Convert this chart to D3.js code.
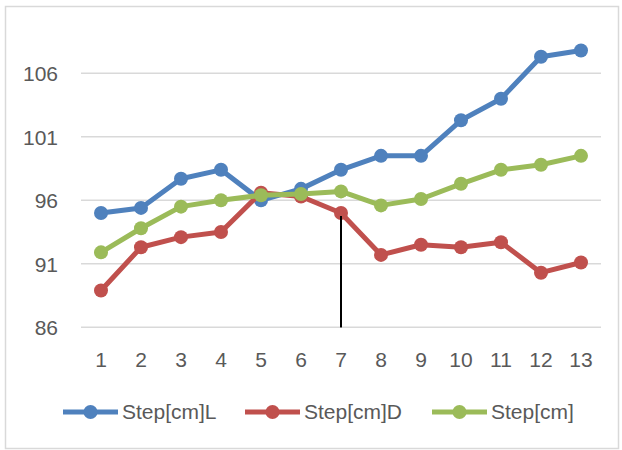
<!DOCTYPE html>
<html><head><meta charset="utf-8">
<script src="https://cdn.jsdelivr.net/npm/d3@7"></script>
<style>body{margin:0;background:#fff}svg{display:block}text{font-family:"Liberation Sans",Arial,sans-serif;fill:#595959}</style>
</head><body>
<script>
const categories = [1,2,3,4,5,6,7,8,9,10,11,12,13];
const stepL = [95.0,95.4,97.7,98.4,96.0,96.9,98.4,99.5,99.5,102.3,104.0,107.3,107.8];
const stepD = [88.9,92.3,93.1,93.5,96.6,96.3,95.0,91.7,92.5,92.3,92.7,90.3,91.1];
const step  = [91.9,93.8,95.5,96.0,96.4,96.5,96.7,95.6,96.1,97.3,98.4,98.8,99.5];
const yTicks = [86,91,96,101,106];
const seriesNames = ["Step[cm]L","Step[cm]D","Step[cm]"];
const colors = ["#4F81BD","#C0504D","#9BBB59"];
const markerCategory = 7;

const W=622,H=450;
const svg=d3.select("body").append("svg").attr("width",W).attr("height",H);
svg.append("rect").attr("x",5.5).attr("y",6.5).attr("width",613).attr("height",442)
  .attr("fill","#fff").attr("stroke","#d9d9d9").attr("stroke-width",1.5);

const x=d3.scaleBand().domain(categories).range([81,601]);
const y=d3.scaleLinear().domain([86,110]).range([327.3,22.5]);
const cx=d=>x(d)+x.bandwidth()/2;

// gridlines
svg.append("g").selectAll("line").data(yTicks).join("line")
  .attr("x1",81).attr("x2",601).attr("y1",d=>y(d)).attr("y2",d=>y(d))
  .attr("stroke","#d9d9d9").attr("stroke-width",1.5);

// y axis labels
const yAxis=d3.axisLeft(y).tickValues(yTicks).tickSize(0).tickPadding(0);
const gy=svg.append("g").attr("transform","translate(58,0)").call(yAxis);
gy.select(".domain").remove();
gy.selectAll("text").attr("font-size",21).attr("dy","0.36em").style("font-family","Liberation Sans").attr("fill","#595959");

// x axis labels
const xAxis=d3.axisBottom(x).tickSize(0).tickPadding(0);
const gx=svg.append("g").attr("transform","translate(0,359)").call(xAxis);
gx.select(".domain").remove();
gx.selectAll("text").attr("font-size",21).attr("dy","0.36em").style("font-family","Liberation Sans").attr("fill","#595959");

// vertical annotation line
svg.append("line").attr("x1",cx(markerCategory)).attr("x2",cx(markerCategory))
  .attr("y1",y(stepD[categories.indexOf(markerCategory)])+2).attr("y2",y(86))
  .attr("stroke","#000").attr("stroke-width",2);

const allSeries=[stepL,stepD,step];
const line=d3.line().x((d,i)=>cx(categories[i])).y(d=>y(d));
allSeries.forEach((s,k)=>{
  const g=svg.append("g");
  g.append("path").datum(s).attr("d",line).attr("fill","none")
    .attr("stroke",colors[k]).attr("stroke-width",5).attr("stroke-linejoin","round");
  g.selectAll("circle").data(s).join("circle")
    .attr("cx",(d,i)=>cx(categories[i])).attr("cy",d=>y(d)).attr("r",7).attr("fill",colors[k]);
});
// re-draw the annotation line above red markers
svg.append("line").attr("x1",cx(markerCategory)).attr("x2",cx(markerCategory))
  .attr("y1",y(stepD[categories.indexOf(markerCategory)])+3).attr("y2",y(86))
  .attr("stroke","#000").attr("stroke-width",2);

// legend
const legX=[63,245,432];
const leg=svg.append("g");
seriesNames.forEach((n,k)=>{
  const g=leg.append("g").attr("transform",`translate(${legX[k]},412)`);
  g.append("line").attr("x1",0).attr("x2",55).attr("stroke",colors[k]).attr("stroke-width",5);
  g.append("circle").attr("cx",27.5).attr("r",7).attr("fill",colors[k]);
  g.append("text").attr("x",59).attr("y",7).attr("font-size",21).text(n);
});
</script>
</body></html>
